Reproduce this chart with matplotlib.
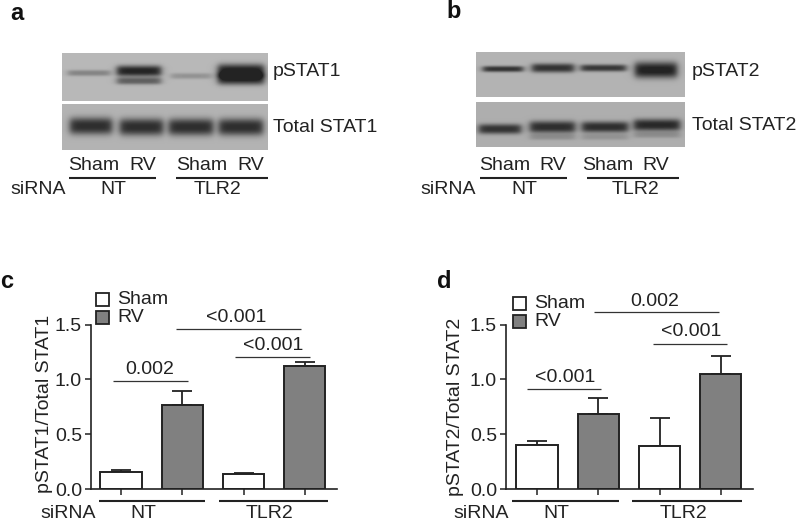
import numpy as np
import matplotlib
matplotlib.use("Agg")
import matplotlib.pyplot as plt
from matplotlib.patches import Rectangle

plt.rcParams['font.family'] = ['Liberation Sans', 'DejaVu Sans']

groups = ["NT", "TLR2"]
treatments = ["Sham", "RV"]
yticks = [0.0, 0.5, 1.0, 1.5]

# bar heights and top of error bar, order: NT sham, NT RV, TLR2 sham, TLR2 RV
stat1_mean = [0.155, 0.77, 0.135, 1.12]
stat1_top = [0.17, 0.89, 0.15, 1.155]
stat2_mean = [0.40, 0.68, 0.39, 1.045]
stat2_top = [0.435, 0.83, 0.645, 1.215]

# band darkness on the blots, one per lane
pstat1_dark = [0.20, 0.58, 0.14, 0.60]
pstat1_lower = [0.0, 0.34, 0.0, 0.52]
total1_dark = [0.52, 0.52, 0.52, 0.52]
pstat2_dark = [0.50, 0.50, 0.48, 0.58]
total2_dark = [0.48, 0.50, 0.50, 0.52]
total2_lower = [0.0, 0.12, 0.10, 0.12]

W, H = 800, 523
fig = plt.figure(figsize=(8, 5.23), dpi=100)
TXT = '#222222'
FS = 14

# overlay in pixel coords for blots, labels and brackets
ov = fig.add_axes([0, 0, 1, 1])
ov.axis('off')


def bands(box, lanes, dark, ys, hs):
    x0, x1, y0, y1 = box
    xx, yy = np.meshgrid(np.arange(x0, x1) + 0.5, np.arange(y0, y1) + 0.5)
    out = np.zeros(xx.shape)
    for (a, b), d, yc, h in zip(lanes, dark, ys, hs):
        prof = 0.5 * (np.tanh((xx - a) / 4.0) - np.tanh((xx - b) / 4.0))
        out = out + d * prof * np.exp(-np.abs((yy - yc) / h) ** 2.6)
    return out


def show(img, box):
    x0, x1, y0, y1 = box
    ov.imshow(np.clip(img, 0.14, 1), cmap='gray', vmin=0, vmax=1, extent=(x0, x1, y1, y0),
              aspect='auto', interpolation='bilinear')


lanes_a = [(68, 110), (117, 161), (171, 211), (218, 264)]
lanes_a2 = [(70, 112), (120, 163), (169, 213), (219, 263)]
lanes_b = [(483, 523), (532, 574), (581, 626), (635, 677)]
lanes_b2 = [(479, 521), (530, 575), (582, 628), (634, 680)]

box = (62, 268, 53, 101)
img = 0.72 - bands(box, lanes_a, pstat1_dark, [73, 71, 76, 71], [3, 5.5, 3, 7])
img = img - bands(box, lanes_a, pstat1_lower, [73, 81, 76, 79], [3, 3.5, 3, 6])
show(img, box)

box = (62, 268, 104, 150)
show(0.70 - bands(box, lanes_a2, total1_dark, [126, 127, 127, 127], [8.5, 8.5, 8.5, 8.5]), box)

box = (476, 685, 52, 97)
show(0.70 - bands(box, lanes_b, pstat2_dark, [69, 68, 68, 70], [3, 4.5, 3.5, 8]), box)

box = (476, 685, 102, 147)
img = 0.68 - bands(box, lanes_b2, total2_dark, [129, 127, 127, 125], [5, 6, 5.5, 6])
img = img - bands(box, lanes_b2, total2_lower, [129, 137, 137, 135], [3, 3, 3, 3])
show(img, box)

ov.set_xlim(0, W)
ov.set_ylim(H, 0)


def label(x, y, s, ha='center', **kw):
    kw.setdefault('fontsize', FS)
    kw.setdefault('color', TXT)
    ov.text(x, y, s, ha=ha, va='center', **kw)


def hline(x0, x1, y, lw=1.5, color='#222222'):
    ov.plot([x0, x1], [y, y], color=color, lw=lw, solid_capstyle='butt')


for x, s, y in [(17, 'a', 13), (454, 'b', 12), (7, 'c', 282), (444, 'd', 282)]:
    label(x, y, s, fontsize=17, fontweight='bold', color='#111111')

# top panels text
label(273, 71, 'pSTAT1', ha='left')
label(273, 127, 'Total STAT1', ha='left')
label(692, 71, 'pSTAT2', ha='left')
label(692, 125, 'Total STAT2', ha='left')
for x, s in zip([94, 143, 202, 251], treatments * 2):
    label(x, 165, s)
for x, s in zip([505, 553, 608, 656], treatments * 2):
    label(x, 165, s)
hline(69, 156, 178)
hline(176, 268, 178)
hline(480, 567, 178)
hline(587, 679, 178)
label(113, 190, groups[0])
label(218, 190, groups[1])
label(38, 190, 'siRNA')
label(524, 190, groups[0])
label(635, 190, groups[1])
label(48 + 400, 190, 'siRNA')


def bars(left, right, c0, mean, top):
    step = 61.3
    y0, y15 = 489, 324.5
    ax = fig.add_axes([left / W, 1 - y0 / H, (right - left) / W, (y0 - y15) / H])
    ax.patch.set_alpha(0)
    pos = np.arange(4)
    cols = ['white', '#808080', 'white', '#808080']
    err = np.array(top) - np.array(mean)
    ax.errorbar(pos, mean, yerr=[np.zeros(4), err], fmt='none', ecolor='#222222',
                elinewidth=1.3, capsize=7.2, capthick=1.3, zorder=1)
    ax.bar(pos, mean, width=0.67, color=cols, edgecolor='#222222', linewidth=1.4, zorder=2)
    ax.set_xlim((left - c0) / step, (right - c0) / step)
    ax.set_ylim(0, 1.5)
    ax.set_xticks(pos)
    ax.set_xticklabels([])
    ax.set_yticks(yticks)
    ax.set_yticklabels(['%.1f' % t for t in yticks], fontsize=FS, color=TXT)
    ax.tick_params(length=4.5, width=1.1, color='#222222', pad=2)
    for s in ['top', 'right']:
        ax.spines[s].set_visible(False)
    for s in ['left', 'bottom']:
        ax.spines[s].set_linewidth(1.2)
        ax.spines[s].set_color('#222222')
    return ax


bars(91, 337, 121, stat1_mean, stat1_top)
bars(506, 753, 537, stat2_mean, stat2_top)

label(45, 404, 'pSTAT1/Total STAT1', rotation=90)
label(456, 407, 'pSTAT2/Total STAT2', rotation=90)

# legends
for lx, ly, tx in [(96, 293, 117), (513, 297, 534)]:
    ov.add_patch(Rectangle((lx, ly), 13, 13, fc='white', ec='#222222', lw=1.3))
    ov.add_patch(Rectangle((lx, ly + 18), 13, 12.5, fc='#808080', ec='#222222', lw=1.3))
    label(tx, ly + 6.5, treatments[0], ha='left')
    label(tx, ly + 24, treatments[1], ha='left')

# significance brackets
for x0, x1, y, tx, ty, s in [(113, 188, 381, 150, 369, '0.002'),
                             (176, 301, 329, 236, 318, '<0.001'),
                             (235, 310, 357, 273, 345, '<0.001'),
                             (527, 601, 389, 565, 378, '<0.001'),
                             (594, 719, 312, 655, 302, '0.002'),
                             (653, 727, 344, 691, 332, '<0.001')]:
    hline(x0, x1, y, lw=0.9, color='#333333')
    label(tx, ty, s)

# group lines under bars
hline(99, 205, 501)
hline(219, 328, 501)
hline(512, 619, 501)
hline(632, 742, 501)
label(143, 513, groups[0])
label(269, 513, groups[1])
label(68, 513, 'siRNA')
label(556, 513, groups[0])
label(683, 513, groups[1])
label(481, 513, 'siRNA')

fig.savefig('out.png', dpi=100)
